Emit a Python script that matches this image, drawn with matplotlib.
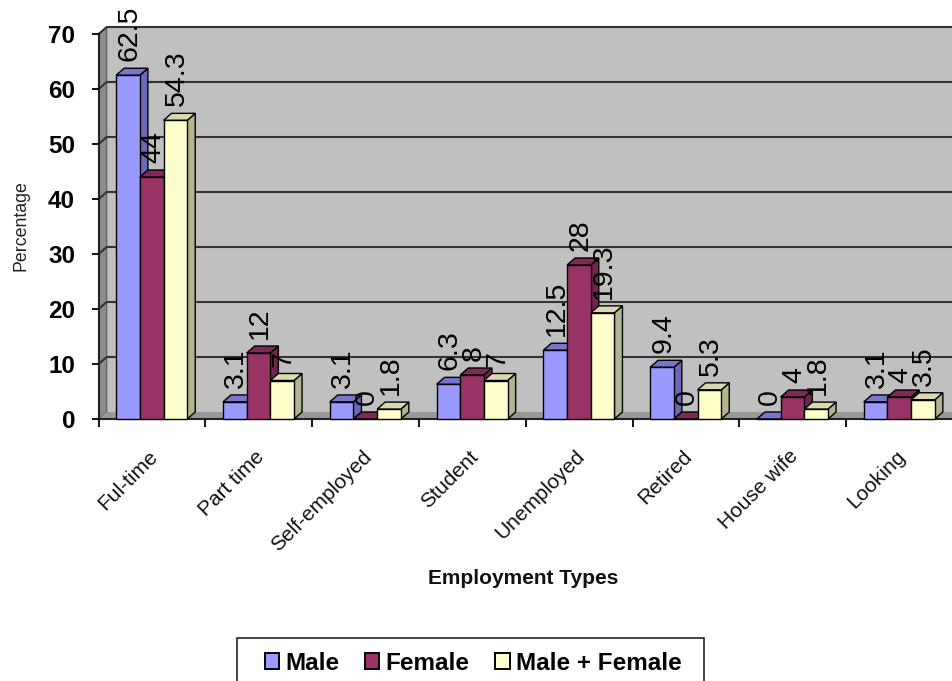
import matplotlib
matplotlib.use("Agg")
import matplotlib.pyplot as plt
from matplotlib.patches import Polygon, Rectangle, Patch

plt.rcParams['font.family'] = ['Liberation Sans', 'DejaVu Sans']

categories = ["Ful-time", "Part time", "Self-employed", "Student",
              "Unemployed", "Retired", "House wife", "Looking"]
male = [62.5, 3.1, 3.1, 6.3, 12.5, 9.4, 0, 3.1]
female = [44, 12, 0, 8, 28, 0, 4, 4]
both = [54.3, 7, 1.8, 7, 19.3, 5.3, 1.8, 3.5]
series_names = ["Male", "Female", "Male + Female"]
yticks = [0, 10, 20, 30, 40, 50, 60, 70]

# front, top, side colours for each series
colors = [("#9999FF", "#7676CC", "#6A6AB8"),
          ("#993366", "#7E2A54", "#73264D"),
          ("#FFFFCC", "#D9D9AD", "#B3B38F")]

W, H = 952, 681
fig = plt.figure(figsize=(W / 100, H / 100), dpi=100)
ax = fig.add_axes([98.7 / W, 1 - 419 / H, (W - 98.7) / W, 385 / H])
ax.set_xlim(0, (W - 98.7) / 106.8)
ax.set_ylim(0, 70)

# 3d offset, in data units
dx = 8 / 106.8
dy = 7 / 5.5
bar_w = 23.7 / 106.8
shift = -0.4 / 106.8
xmax = ax.get_xlim()[1]

# walls and floor
ax.add_patch(Polygon([(dx, dy), (xmax + dx, dy), (xmax + dx, 70 + dy), (dx, 70 + dy)],
                     fc="#C0C0C0", ec="none", zorder=0, clip_on=False))
ax.add_patch(Polygon([(0, 0), (dx, dy), (dx, 70 + dy), (0, 70)],
                     fc="#8C8C8C", ec="#555555", lw=0.8, zorder=0.5, clip_on=False))
ax.add_patch(Polygon([(0, 0), (dx, dy), (xmax + dx, dy), (xmax, 0)],
                     fc="#999999", ec="none", zorder=0.5, clip_on=False))

for v in yticks[1:]:
    ax.plot([0, dx, xmax], [v, v + dy, v + dy], color="#333333", lw=1.5,
            zorder=1, clip_on=False)

for i in range(len(categories)):
    for j, vals in enumerate([male, female, both]):
        v = vals[i]
        left = i + 0.5 - 1.5 * bar_w + j * bar_w + shift
        right = left + bar_w
        front, top, side = colors[j]
        z = 2 + i + j * 0.1
        ax.add_patch(Polygon([(right, 0), (right + dx, dy), (right + dx, v + dy), (right, v)],
                             fc=side, ec="black", lw=1, zorder=z, clip_on=False))
        ax.add_patch(Polygon([(left, v), (left + dx, v + dy), (right + dx, v + dy), (right, v)],
                             fc=top, ec="black", lw=1, zorder=z, clip_on=False))
        ax.bar(left, v, bar_w, align="edge", color=front, edgecolor="black", lw=1,
               zorder=z, clip_on=False)
        ax.annotate(str(v), (left + bar_w / 2, v + dy), xytext=(1, 5),
                    textcoords="offset points", rotation=90, ha="center", va="bottom",
                    fontsize=20.5, color="black", zorder=50, annotation_clip=False)

for s in ["top", "right"]:
    ax.spines[s].set_visible(False)
for s in ["left", "bottom"]:
    ax.spines[s].set_linewidth(1.5)
    ax.spines[s].set_color("#222222")
    ax.spines[s].set_zorder(1.5)

ax.set_yticks(yticks)
ax.set_yticklabels([str(v) for v in yticks], fontsize=17.5, fontweight="bold")
ax.set_xticks(range(len(categories)))
ax.set_xticklabels([""] * len(categories))
ax.tick_params(axis="y", length=5, width=1.3, pad=12)
ax.tick_params(axis="x", length=6, width=1.3)

# category labels hang off the tick centre of each group
for i, name in enumerate(categories):
    ax.annotate(name, (i + 0.5, 0), xytext=(-3, -20), textcoords="offset points",
                rotation=45, rotation_mode="anchor", ha="right", va="top",
                fontsize=15, color="#111111", annotation_clip=False)

fig.text(21 / W, 1 - 226 / H, "Percentage", rotation=90, ha="center", va="center",
         fontsize=12.8, color="#222222")
fig.text(523 / W, 1 - 578 / H, "Employment Types", ha="center", va="center",
         fontsize=15, fontweight="bold", color="#111111")

# legend box runs off the bottom of the picture
fig.add_artist(Rectangle((237 / W, -0.02), 467 / W, 0.02 + (H - 638) / H,
                         transform=fig.transFigure, fc="white", ec="#222222", lw=1.2))
handles = [Patch(fc=c[0], ec="black", lw=1.4) for c in colors]
fig.legend(handles, series_names, ncol=3, frameon=False, loc="center",
           bbox_to_anchor=(473 / W, 1 - 663 / H),
           prop={"weight": "bold", "size": 17.5}, handlelength=0.6, handleheight=0.6,
           handletextpad=0.25, columnspacing=1.05)

fig.savefig("out.png", dpi=100)
